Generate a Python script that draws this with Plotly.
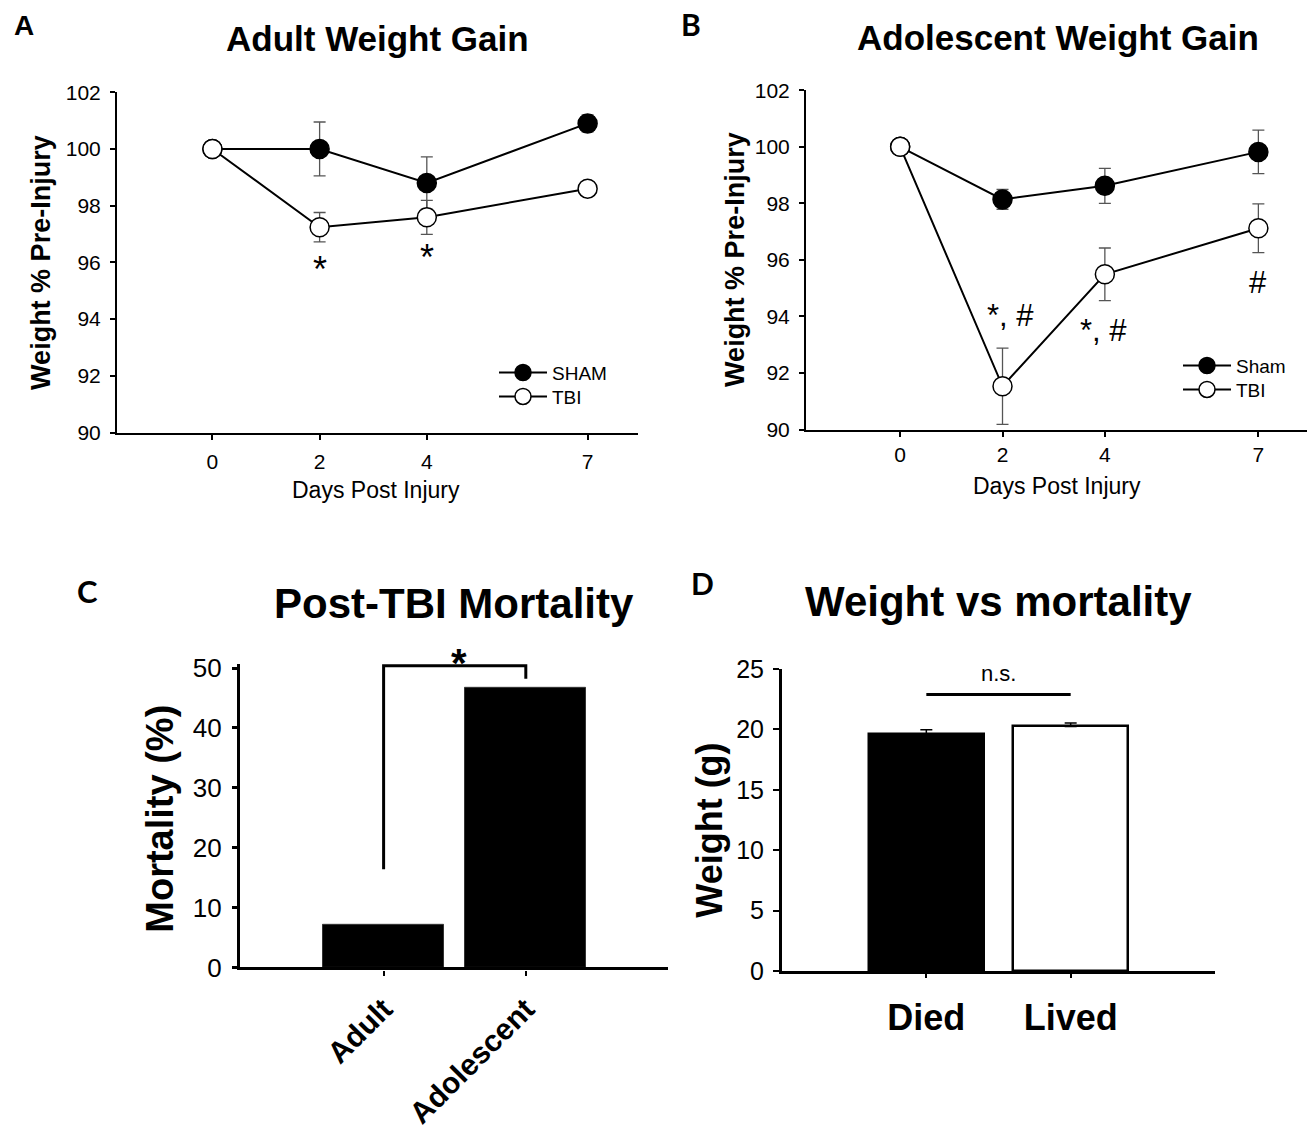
import plotly.graph_objects as go

# ---------------- data ----------------
days = [0, 2, 4, 7]
day_ticks = ["0", "2", "4", "7"]

adult_sham = [100.0, 100.0, 98.8, 100.9]
adult_sham_err = [0.0, 0.95, 0.92, 0.3]
adult_tbi = [100.0, 97.24, 97.59, 98.6]
adult_tbi_err = [0.0, 0.52, 0.6, 0.15]

adol_sham = [100.0, 98.14, 98.62, 99.82]
adol_sham_err = [0.0, 0.35, 0.62, 0.77]
adol_tbi = [100.0, 91.53, 95.49, 97.12]
adol_tbi_err = [0.0, 1.35, 0.93, 0.86]

mort_groups = ["Adult", "Adolescent"]
mortality = [7.1, 46.7]

weight_groups = ["Died", "Lived"]
weight_g = [19.58, 20.24]
weight_err = [0.4, 0.3]

# significance marks
adult_sig_days = [2, 4]
adult_sig_y = [95.88, 96.30]
adol_sig_days = [2.16, 3.97, 7.0]
adol_sig_y = [94.02, 93.49, 95.19]
adol_sig_txt = ["*, #", "*, #", "#"]
bracket_y = [16.4, 50.38, 50.38, 48.2]
ns_y = 22.9

W, H = 1310, 1130
ARIAL = "Liberation Sans, Arial, sans-serif"
CAL = "Lato, Open Sans, sans-serif"
ERRC = "#555555"

fig = go.Figure()

def px(x):
    return x / W

def py(y):
    # page-pixel row -> paper fraction (with a small vertical calibration)
    return 1 - ((y - 13.6) / 0.9746) / H

# ---------- Panel A ----------
fig.add_trace(go.Scatter(
    x=days, y=adult_sham, name="SHAM", mode="lines+markers",
    line=dict(color="black", width=2),
    marker=dict(symbol="circle", size=19, color="black", line=dict(color="black", width=1.5)),
    error_y=dict(type="data", array=adult_sham_err, color=ERRC, thickness=1.3, width=6),
    xaxis="x", yaxis="y", legend="legend"))
fig.add_trace(go.Scatter(
    x=days, y=adult_tbi, name="TBI", mode="lines+markers",
    line=dict(color="black", width=2),
    marker=dict(symbol="circle", size=19, color="white", line=dict(color="black", width=1.5)),
    error_y=dict(type="data", array=adult_tbi_err, color=ERRC, thickness=1.3, width=6),
    xaxis="x", yaxis="y", legend="legend3"))

# ---------- Panel B ----------
fig.add_trace(go.Scatter(
    x=days, y=adol_sham, name="Sham", mode="lines+markers",
    line=dict(color="black", width=2),
    marker=dict(symbol="circle", size=19, color="black", line=dict(color="black", width=1.5)),
    error_y=dict(type="data", array=adol_sham_err, color=ERRC, thickness=1.3, width=6),
    xaxis="x2", yaxis="y2", legend="legend2"))
fig.add_trace(go.Scatter(
    x=days, y=adol_tbi, name="TBI", mode="lines+markers",
    line=dict(color="black", width=2),
    marker=dict(symbol="circle", size=19, color="white", line=dict(color="black", width=1.5)),
    error_y=dict(type="data", array=adol_tbi_err, color=ERRC, thickness=1.3, width=6),
    xaxis="x2", yaxis="y2", legend="legend4"))

# ---------- Panel C ----------
fig.add_trace(go.Bar(
    x=mort_groups, y=mortality, width=0.85,
    marker=dict(color="black", line=dict(color="#333333", width=1)),
    showlegend=False, xaxis="x3", yaxis="y3"))

# ---------- Panel D ----------
fig.add_trace(go.Bar(
    x=weight_groups, y=weight_g, width=0.8,
    marker=dict(color=["black", "white"], line=dict(color="black", width=2.5)),
    error_y=dict(type="data", symmetric=False, array=weight_err, arrayminus=[0, 0],
                 color="black", thickness=1.5, width=6),
    showlegend=False, xaxis="x4", yaxis="y4"))

axis_common = dict(showgrid=False, zeroline=False, showline=True, linecolor="black",
                   ticks="outside", tickcolor="black", mirror=False)

def leg(x, y):
    return dict(x=px(x), y=py(y), xanchor="left", yanchor="middle",
                font=dict(size=19), bgcolor="rgba(0,0,0,0)", itemwidth=48,
                tracegroupgap=0)

layout = dict(
    width=W, height=H, margin=dict(l=0, r=0, t=0, b=0),
    paper_bgcolor="white", plot_bgcolor="white",
    font=dict(family=ARIAL, color="black"),
    bargap=0,
    # Panel A
    xaxis=dict(domain=[px(117), px(638)], range=[-1.78, 7.94], tickvals=days, ticktext=day_ticks,
               linewidth=2, ticklen=5, tickwidth=2, tickfont=dict(size=21),
               ticklabelstandoff=4, anchor="y", **axis_common),
    yaxis=dict(domain=[py(433), py(92)], range=[90, 102], dtick=2,
               linewidth=2, ticklen=5, tickwidth=1.5, tickfont=dict(size=21),
               ticklabelstandoff=5, anchor="x", **axis_common),
    # Panel B
    xaxis2=dict(domain=[px(806), px(1307)], range=[-1.84, 7.95], tickvals=days, ticktext=day_ticks,
                linewidth=2, ticklen=5, tickwidth=2, tickfont=dict(size=21),
                ticklabelstandoff=0, anchor="y2", **axis_common),
    yaxis2=dict(domain=[py(430), py(90)], range=[90, 102], dtick=2,
                linewidth=2, ticklen=5, tickwidth=1.5, tickfont=dict(size=21),
                ticklabelstandoff=5, anchor="x2", **axis_common),
    # Panel C
    xaxis3=dict(domain=[px(240), px(668)], range=[-1.01, 2.0], type="category",
                linewidth=3.3, ticklen=5, tickwidth=2, tickangle=-45,
                tickfont=dict(size=30, weight="bold"), ticklabelstandoff=4,
                anchor="y3", **axis_common),
    yaxis3=dict(domain=[py(969), py(664.8)], range=[0, 50.7], tickvals=[0, 10, 20, 30, 40, 50],
                linewidth=3.3, ticklen=5, tickwidth=3, tickfont=dict(size=26),
                ticklabelstandoff=5, anchor="x3", **axis_common),
    # Panel D
    xaxis4=dict(domain=[px(782), px(1215)], range=[-1.0, 2.0], type="category",
                linewidth=3, ticklen=4, tickwidth=1.5,
                tickfont=dict(size=36, weight="bold"), ticklabelstandoff=9,
                anchor="y4", **axis_common),
    yaxis4=dict(domain=[py(972.5), py(670)], range=[0, 25], dtick=5,
                linewidth=3, ticklen=6, tickwidth=2, tickfont=dict(size=25),
                ticklabelstandoff=4, anchor="x4", **axis_common),
    legend=leg(494, 373),
    legend3=leg(494, 397),
    legend2=leg(1178, 366),
    legend4=leg(1178, 390),
)
fig.update_layout(**layout)

ann = []

def txt(x, y, text, size, family=ARIAL, angle=0, xref="paper", yref="paper", **kw):
    d = dict(x=x, y=y, xref=xref, yref=yref, text=text, showarrow=False,
             font=dict(size=size, family=family, color="black"), textangle=angle,
             xanchor="center", yanchor="middle")
    d.update(kw)
    ann.append(d)

# panel letters
txt(px(24), py(25), "<b>A</b>", 28)
txt(px(691), py(24), "<b>B</b>", 30, family=CAL)
txt(px(87), py(592), "<b>C</b>", 31, family=CAL)
txt(px(702), py(584), "<b>D</b>", 30, family=CAL)

# titles
txt(px(377), py(38), "<b>Adult Weight Gain</b>", 35)
txt(px(1058), py(37), "<b>Adolescent Weight Gain</b>", 35)
txt(px(454), py(604), "<b>Post-TBI Mortality</b>", 42)
txt(px(998), py(602), "<b>Weight vs mortality</b>", 42)

# axis titles
txt(px(41), py(263), "<b>Weight % Pre-Injury</b>", 27, angle=-90)
txt(px(735), py(260), "<b>Weight % Pre-Injury</b>", 27, angle=-90)
txt(px(376), py(491), "Days Post Injury", 23)
txt(px(1057), py(487), "Days Post Injury", 23)
txt(px(160), py(820), "<b>Mortality (%)</b>", 38, angle=-90)
txt(px(710), py(832), "<b>Weight (g)</b>", 36, angle=-90)

# significance marks
for d_, v_ in zip(adult_sig_days, adult_sig_y):
    txt(d_, v_, "*", 36, xref="x", yref="y", yshift=-4)
for d_, v_, t_ in zip(adol_sig_days, adol_sig_y, adol_sig_txt):
    txt(d_, v_, t_, 31, xref="x2", yref="y2", yshift=0)
txt(0.53, 50.0, "<b>*</b>", 40, xref="x3", yref="y3", yshift=5)
txt(0.5, ns_y, "n.s.", 22, xref="x4", yref="y4", yanchor="bottom", yshift=6)

fig.update_layout(annotations=ann)

# bracket (C) and n.s. line (D)
fig.add_shape(type="path",
              path=f"M 0 {bracket_y[0]} L 0 {bracket_y[1]} L 1 {bracket_y[2]} L 1 {bracket_y[3]}",
              xref="x3", yref="y3", line=dict(color="black", width=3))
fig.add_shape(type="line", x0=0, x1=1, y0=ns_y, y1=ns_y, xref="x4", yref="y4",
              line=dict(color="black", width=3))

fig.write_html("out.html", config={"displayModeBar": False},
               post_script="document.body.style.margin='0';document.body.style.padding='0';"
                           "document.documentElement.style.overflow='hidden';")
